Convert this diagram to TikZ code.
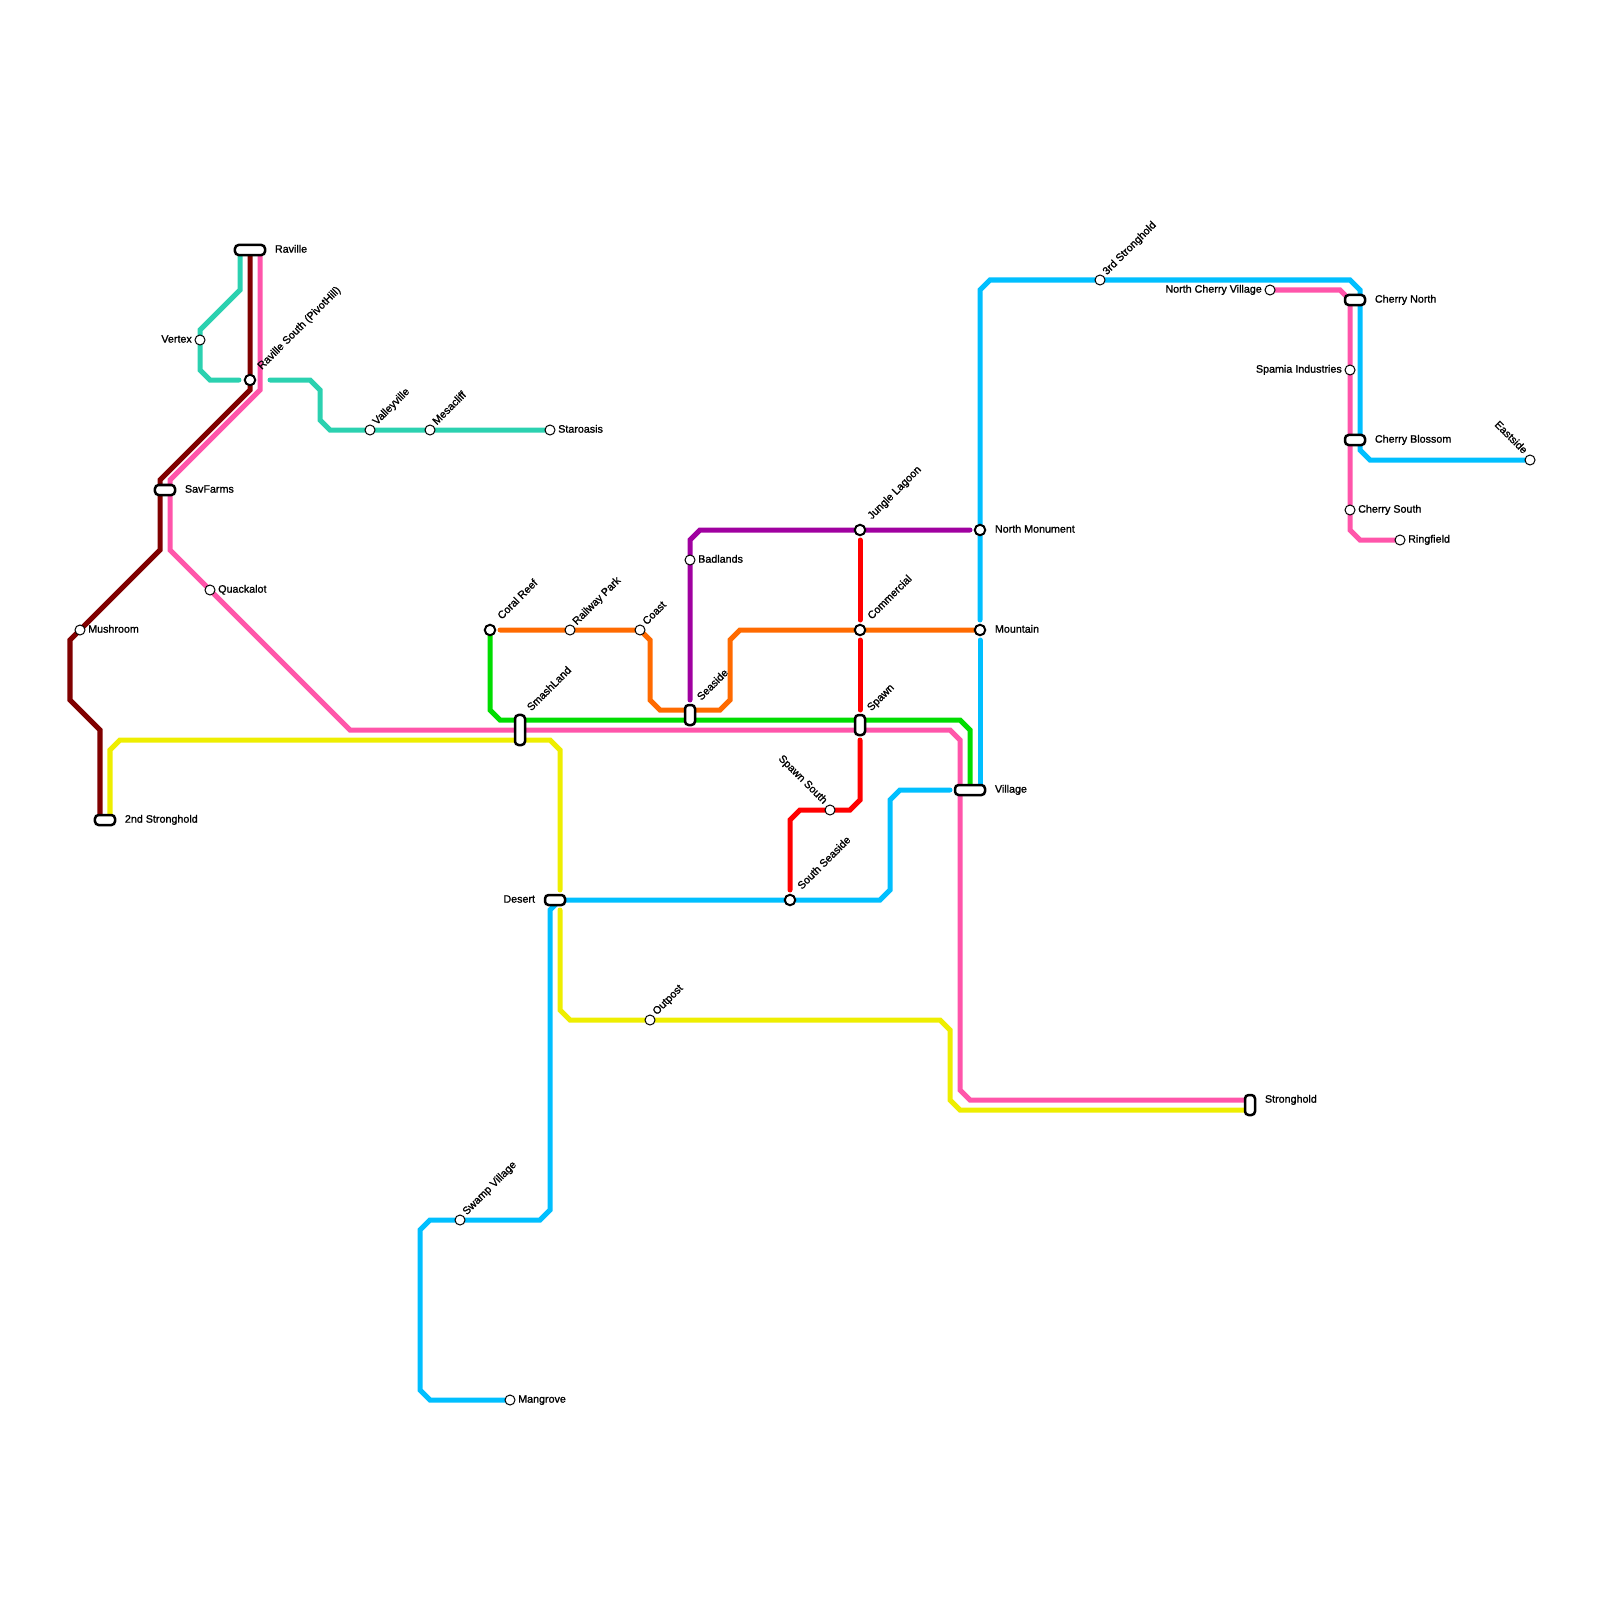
\documentclass[tikz,border=0pt]{standalone}
\usepackage{fontspec}
\setmainfont[AutoFakeBold=1.2]{Liberation Sans}
\usetikzlibrary{positioning}
\pgfdeclarelayer{lines}
\pgfsetlayers{lines,main}
\definecolor{tealline}{RGB}{43,209,176}
\definecolor{brownline}{RGB}{128,0,0}
\definecolor{pinkline}{RGB}{255,85,170}
\definecolor{greenline}{RGB}{0,221,0}
\definecolor{yellowline}{RGB}{238,238,0}
\definecolor{blueline}{RGB}{0,191,255}
\definecolor{orangeline}{RGB}{255,106,0}
\definecolor{redline}{RGB}{255,0,0}
\definecolor{purpleline}{RGB}{160,0,160}
\begin{document}
\begin{tikzpicture}[x=0.01cm,y=-0.01cm,
    metro/.style={line width=0.05cm,line cap=round},
    stop/.style={circle,draw,fill=white,line width=0.01cm,minimum size=0.1cm,inner sep=0pt},
    hub/.style={circle,draw,fill=white,line width=0.02cm,minimum size=0.105cm,inner sep=0pt},
    pillh/.style={rectangle,draw,fill=white,line width=0.025cm,rounded corners=0.036cm,minimum height=0.1cm,inner sep=0pt},
    pillv/.style={pillh,minimum width=0.1cm},
    lab/.style={font=\fontsize{3.05}{3.6}\selectfont\bfseries,inner sep=0pt,text height=0.073cm,text depth=0.02cm}]
  \useasboundingbox (0,0) rectangle (1600,1600);
  % ---------- stations ----------
  \foreach \nm/\x/\y in {vertex/200/340,valleyville/370/430,mesacliff/430/430,staroasis/550/430,
      quackalot/210/590,mushroom/80/630,railwaypark/570/630,coast/640/630,badlands/690/560,
      spawnsouth/830/810,outpost/650/1020,swampvillage/460/1220,mangrove/510/1400,
      thirdstronghold/1100/280,northcherry/1270/290,spamia/1350/370,cherrysouth/1350/510,
      ringfield/1400/540,eastside/1530/460}
    {\node[stop] (\nm) at (\x,\y) {};}
  \foreach \nm/\x/\y in {ravillesouth/250/380,coralreef/490/630,junglelagoon/860/530,commercial/860/630,
      southseaside/790/900,northmonument/980/530,mountain/980/630}
    {\node[hub] (\nm) at (\x,\y) {};}
  \foreach \nm/\x/\y/\w in {raville/250/250/0.3cm,savfarms/165/490/0.2cm,secondstronghold/105/820/0.2cm,
      desert/555/900/0.2cm,village/970/790/0.3cm,cherrynorth/1355/300/0.2cm,cherryblossom/1355/440/0.2cm}
    {\node[pillh,minimum width=\w] (\nm) at (\x,\y) {};}
  \foreach \nm/\x/\y/\h in {smashland/520/730/0.3cm,seaside/690/715/0.2cm,spawn/860/725/0.2cm,stronghold/1250/1105/0.2cm}
    {\node[pillv,minimum height=\h] (\nm) at (\x,\y) {};}
  % ---------- labels ----------
  \foreach \nm/\txt in {badlands/Badlands,mushroom/Mushroom,quackalot/Quackalot,staroasis/Staroasis,
      mangrove/Mangrove,cherrysouth/Cherry South,ringfield/Ringfield}
    {\node[lab,right=0.02cm of \nm] (\nm-lab) {\txt};}
  \foreach \nm/\txt in {raville/Raville,savfarms/SavFarms,secondstronghold/2nd Stronghold,village/Village,
      northmonument/North Monument,mountain/Mountain,cherrynorth/Cherry North,cherryblossom/Cherry Blossom}
    {\node[lab,right=0.08cm of \nm] (\nm-lab) {\txt};}
  \node[lab,right=0.08cm of stronghold,yshift=0.05cm] (stronghold-lab) {Stronghold};
  \node[lab,left=0.08cm of desert] (desert-lab) {Desert};
  \foreach \nm/\txt in {vertex/Vertex,spamia/Spamia Industries,northcherry/North Cherry Village}
    {\node[lab,left=0.02cm of \nm] (\nm-lab) {\txt};}
  \foreach \nm/\txt in {valleyville/Valleyville,mesacliff/Mesacliff,railwaypark/Railway Park,coast/Coast,
      outpost/Outpost,swampvillage/Swamp Village,thirdstronghold/3rd Stronghold}
    {\node[lab,rotate=45,anchor=west] (\nm-lab) at ([shift={(4.5,-6)}]\nm.center) {\txt};}
  \foreach \nm/\txt in {ravillesouth/Raville South (PivotHill),coralreef/Coral Reef,junglelagoon/Jungle Lagoon,
      commercial/Commercial,southseaside/South Seaside}
    {\node[lab,rotate=45,anchor=west] (\nm-lab) at ([shift={(9.5,-11.5)}]\nm.center) {\txt};}
  \node[lab,rotate=45,anchor=west] (smashland-lab) at ([shift={(9,-20)}]smashland.center) {SmashLand};
  \node[lab,rotate=45,anchor=west] (seaside-lab) at ([shift={(9,-15.5)}]seaside.center) {Seaside};
  \node[lab,rotate=45,anchor=west] (spawn-lab) at ([shift={(9,-15)}]spawn.center) {Spawn};
  \node[lab,rotate=-45,anchor=east] (spawnsouth-lab) at ([shift={(-4.5,-7)}]spawnsouth.center) {Spawn South};
  \node[lab,rotate=-45,anchor=east] (eastside-lab) at ([shift={(-4.5,-7)}]eastside.center) {Eastside};
  % ---------- lines ----------
  \begin{pgfonlayer}{lines}
    % teal
    \draw[metro,tealline,shorten >=0.11cm] ([shift={(-10,0)}]raville.center) -- (240,290) -- (200,330)
      -- (vertex.center) -- (200,370) -- (210,380) -- (ravillesouth.center);
    \draw[metro,tealline,shorten <=0.2cm] (ravillesouth.center) -- (310,380) -- (320,390) -- (320,420)
      -- (330,430) -- (valleyville.center) -- (mesacliff.center) -- (staroasis.center);
    % brown
    \draw[metro,brownline] (raville.center) -- (ravillesouth.center) -- (250,390) -- (160,480)
      -- ([shift={(-5,0)}]savfarms.center) -- (160,550) -- (mushroom.center) -- (70,640) -- (70,700)
      -- (100,730) -- ([shift={(-5,0)}]secondstronghold.center);
    % pink
    \draw[metro,pinkline] ([shift={(10,0)}]raville.center) -- (260,390) -- (170,480)
      -- ([shift={(5,0)}]savfarms.center) -- (170,550) -- (quackalot.center) -- (350,730)
      -- (smashland.center) -- (950,730) -- (960,740) -- (960,1090)
      -- (970,1100) -- ([shift={(0,-5)}]stronghold.center);
    \draw[metro,pinkline] (northcherry.center) -- (1340,290) -- (1350,300) -- (spamia.center)
      -- (cherrysouth.center) -- (1350,530) -- (1360,540) -- (ringfield.center);
    % yellow
    \draw[metro,yellowline,shorten >=0.1cm] ([shift={(5,0)}]secondstronghold.center) -- (110,750) -- (120,740)
      -- (550,740) -- (560,750) -- ([shift={(5,0)}]desert.center);
    \draw[metro,yellowline,shorten <=0.1cm] ([shift={(5,0)}]desert.center) -- (560,1010) -- (570,1020)
      -- (outpost.center) -- (940,1020) -- (950,1030) -- (950,1100) -- (960,1110)
      -- ([shift={(0,5)}]stronghold.center);
    % green
    \draw[metro,greenline] (coralreef.center) -- (490,710) -- (500,720) -- (960,720) -- (970,730)
      -- (village.center);
    % orange
    \draw[metro,orangeline,shorten <=0.1cm] (coralreef.center) -- (railwaypark.center) -- (coast.center)
      -- (650,640) -- (650,700) -- (660,710) -- (720,710) -- (730,700) -- (730,640) -- (740,630)
      -- (commercial.center) -- (mountain.center);
    % purple
    \draw[metro,purpleline,shorten <=0.15cm,shorten >=0.1cm] (seaside.center) -- (badlands.center)
      -- (690,540) -- (700,530) -- (junglelagoon.center) -- (northmonument.center);
    % red
    \draw[metro,redline,shorten <=0.1cm,shorten >=0.1cm] (junglelagoon.center) -- (commercial.center);
    \draw[metro,redline,shorten <=0.1cm,shorten >=0.15cm] (commercial.center) -- (spawn.center);
    \draw[metro,redline,shorten <=0.15cm,shorten >=0.1cm] (spawn.center) -- (860,800) -- (850,810)
      -- (spawnsouth.center) -- (800,810) -- (790,820) -- (southseaside.center);
    % blue
    \draw[metro,blueline,shorten <=0.1cm] (mountain.center) -- (northmonument.center) -- (980,290)
      -- (990,280) -- (thirdstronghold.center) -- (1350,280) -- (1360,290) -- (1360,450) -- (1370,460)
      -- (eastside.center);
    \draw[metro,blueline,shorten >=0.1cm] ([shift={(10,0)}]village.center) -- (mountain.center);
    \draw[metro,blueline,shorten >=0.2cm] (mangrove.center) -- (430,1400) -- (420,1390) -- (420,1230)
      -- (430,1220) -- (swampvillage.center) -- (540,1220) -- (550,1210) -- (550,910) -- (560,900)
      -- (southseaside.center) -- (880,900) -- (890,890) -- (890,800) -- (900,790) -- (village.center);
  \end{pgfonlayer}
\end{tikzpicture}
\end{document}
